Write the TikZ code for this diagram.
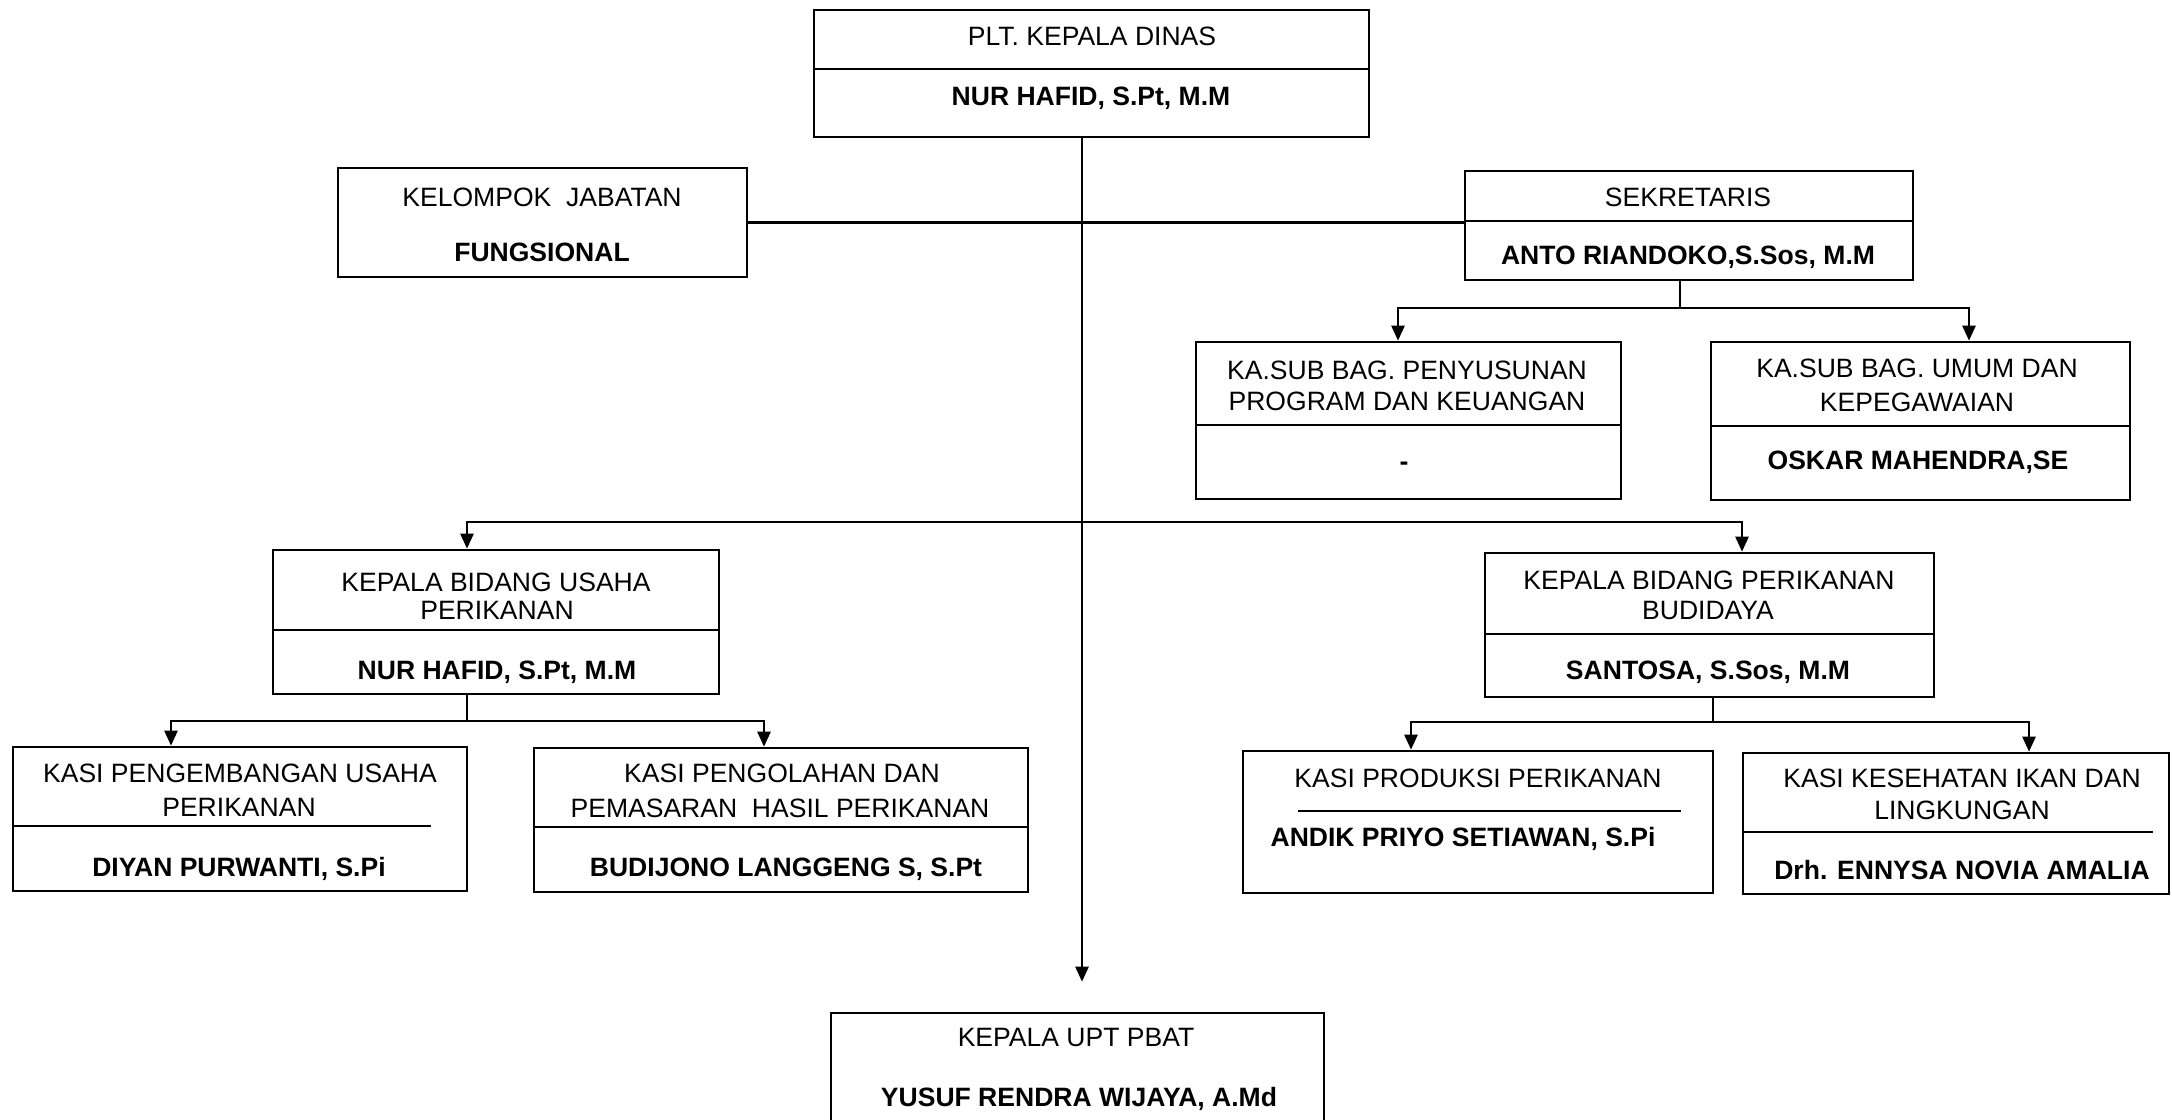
\documentclass[tikz,border=0pt]{standalone}
\usepackage{fontspec}
\setmainfont{Liberation Sans}
\usetikzlibrary{arrows.meta,fit}
\newcommand\fsz{\fontsize{7.55pt}{9pt}\selectfont}
\newcommand\TxtR[4]{\node[lbl] (#1) at (#2,#3) {#4};}
\newcommand\TxtB[4]{\node[lbl,font=\bfseries\fsz] (#1) at (#2,#3) {#4};}
\newcommand\Bx[5]{\node[box,fit={(#2,#3) (#4,#5)}] (#1) {};}
\tikzset{
  box/.style={draw, line width=0.75pt, inner sep=0pt, rectangle},
  dv/.style={line width=0.75pt},
  ln/.style={line width=0.7pt},
  arr/.style={ln, -{Triangle[length=1.5mm,width=1.3mm]}},
  lbl/.style={inner sep=0pt, text height=1.9mm, text depth=0pt, anchor=center, font=\fsz},
}
\begin{document}
\begin{tikzpicture}[x=0.1mm, y=-0.1mm]
\useasboundingbox (0,0) rectangle (2172,1119);
\clip (0,0) rectangle (2172,1119);
\fill[white] (0,0) rectangle (2172,1119);

% boxes
\Bx{top}{814}{10}{1369}{137}
\draw[dv] (814,69) -- (1369,69);
\Bx{kel}{338}{168}{747}{277}
\Bx{sek}{1465}{171}{1913}{280}
\draw[dv] (1465,221) -- (1913,221);
\Bx{pen}{1196}{342}{1621}{499}
\draw[dv] (1196,425) -- (1621,425);
\Bx{umum}{1711}{342}{2130}{500}
\draw[dv] (1711,426) -- (2130,426);
\Bx{usaha}{273}{550}{719}{694}
\draw[dv] (273,630) -- (719,630);
\Bx{bud}{1485}{553}{1934}{697}
\draw[dv] (1485,634) -- (1934,634);
\Bx{kpu}{13}{747}{467}{891}
\draw[dv] (13,826) -- (431,826);
\Bx{kpo}{534}{748}{1028}{892}
\draw[dv] (534,827) -- (1028,827);
\Bx{kpr}{1243}{751}{1713}{893}
\draw[dv] (1298,811) -- (1681,811);
\Bx{kkes}{1743}{753}{2169}{894}
\draw[dv] (1743,832) -- (2153,832);
\Bx{upt}{831}{1013}{1324}{1150}

% texts
\TxtR{t1}{1092}{36}{PLT. KEPALA DINAS}
\TxtB{t2}{1091}{96}{NUR HAFID, S.Pt, M.M}
\TxtR{t3}{542}{197}{KELOMPOK\ \ JABATAN}
\TxtB{t4}{542}{252}{FUNGSIONAL}
\TxtR{t5}{1688}{197}{SEKRETARIS}
\TxtB{t6}{1688}{255}{ANTO RIANDOKO,S.Sos, M.M}
\TxtR{t7}{1407}{370}{KA.SUB BAG. PENYUSUNAN}
\TxtR{t8}{1407}{401}{PROGRAM DAN KEUANGAN}
\TxtB{t9}{1404}{461}{-}
\TxtR{t10}{1917}{368}{KA.SUB BAG. UMUM DAN}
\TxtR{t11}{1917}{402}{KEPEGAWAIAN}
\TxtB{t12}{1918}{460}{OSKAR MAHENDRA,SE}
\TxtR{t13}{496}{582}{KEPALA BIDANG USAHA}
\TxtR{t14}{497}{610}{PERIKANAN}
\TxtB{t15}{497}{670}{NUR HAFID, S.Pt, M.M}
\TxtR{t16}{1709}{580}{KEPALA BIDANG PERIKANAN}
\TxtR{t17}{1708}{610}{BUDIDAYA}
\TxtB{t18}{1708}{670}{SANTOSA, S.Sos, M.M}
\TxtR{t19}{240}{773}{KASI PENGEMBANGAN USAHA}
\TxtR{t20}{239}{807}{PERIKANAN}
\TxtB{t21}{239}{867}{DIYAN PURWANTI, S.Pi}
\TxtR{t22}{782}{773}{KASI PENGOLAHAN DAN}
\TxtR{t23}{780}{808}{PEMASARAN\ \ HASIL PERIKANAN}
\TxtB{t24}{786}{867}{BUDIJONO LANGGENG S, S.Pt}
\TxtR{t25}{1478}{778}{KASI PRODUKSI PERIKANAN}
\TxtB{t26}{1463}{837}{ANDIK PRIYO SETIAWAN, S.Pi}
\TxtR{t27}{1962}{778}{KASI KESEHATAN IKAN DAN}
\TxtR{t28}{1962}{810}{LINGKUNGAN}
\TxtB{t29}{1962}{870}{Drh. ENNYSA NOVIA AMALIA}
\TxtR{t30}{1076}{1037}{KEPALA UPT PBAT}
\TxtB{t31}{1079}{1097}{YUSUF RENDRA WIJAYA, A.Md}

% connector coordinates
\coordinate (mx) at (1082,0);
\coordinate (hj) at (1082,522);
\coordinate (sj) at (1680,308);
\coordinate (uj) at (467,721);
\coordinate (bj) at (1713,722);
\coordinate (penA) at (1398,0);
\coordinate (umA) at (1969,0);
\coordinate (usA) at (467,0);
\coordinate (buA) at (1742,0);
\coordinate (kpuA) at (171,0);
\coordinate (kpoA) at (764,0);
\coordinate (kprA) at (1411,0);
\coordinate (kkA) at (2029,0);

% connectors
\draw[arr, shorten >=3mm] (top.south -| mx) -- (upt.north -| mx);
\draw[ln] (kel.east) -- (kel.east -| sek.west);
\draw[ln] (sek.south -| sj) -- (sj);
\draw[arr] (sj) -| (pen.north -| penA);
\draw[arr] (sj) -| (umum.north -| umA);
\draw[arr] (hj) -| (usaha.north -| usA);
\draw[arr] (hj) -| (bud.north -| buA);
\draw[ln] (usaha.south -| uj) -- (uj);
\draw[arr] (uj) -| (kpu.north -| kpuA);
\draw[arr] (uj) -| (kpo.north -| kpoA);
\draw[ln] (bud.south -| bj) -- (bj);
\draw[arr] (bj) -| (kpr.north -| kprA);
\draw[arr] (bj) -| (kkes.north -| kkA);
\end{tikzpicture}
\end{document}
